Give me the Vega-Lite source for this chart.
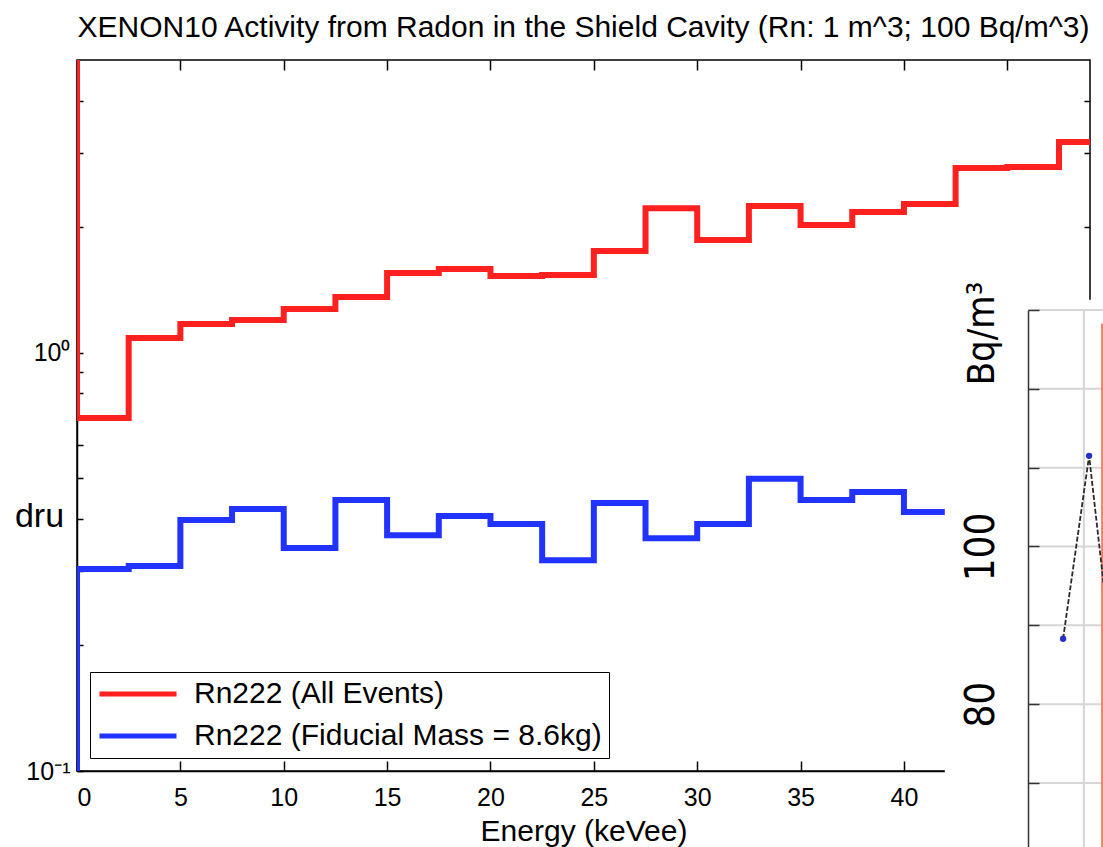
{
  "$schema": "https://vega.github.io/schema/vega-lite/v6.json",
  "width": 1013,
  "height": 711,
  "autosize": {"type": "none"},
  "padding": {"left": 77, "top": 60, "right": 13, "bottom": 76},
  "background": "white",
  "config": {
    "view": {"stroke": "black", "strokeWidth": 1.5},
    "font": "Liberation Sans",
    "axis": {"grid": false}
  },
  "title": {
    "text": "XENON10 Activity from Radon in the Shield Cavity (Rn: 1 m^3; 100 Bq/m^3)",
    "font": "Liberation Sans",
    "fontSize": 30,
    "fontWeight": "normal",
    "color": "black",
    "anchor": "middle",
    "baseline": "alphabetic",
    "offset": -8
  },
  "datasets": {
    "hist": [
      {"s": "Rn222 (All Events)", "i": 0, "E": 0, "v": 10},
      {"s": "Rn222 (All Events)", "i": 1, "E": 0, "v": 0.697},
      {"s": "Rn222 (All Events)", "i": 2, "E": 2.5, "v": 1.083},
      {"s": "Rn222 (All Events)", "i": 3, "E": 5, "v": 1.17},
      {"s": "Rn222 (All Events)", "i": 4, "E": 7.5, "v": 1.196},
      {"s": "Rn222 (All Events)", "i": 5, "E": 10, "v": 1.27},
      {"s": "Rn222 (All Events)", "i": 6, "E": 12.5, "v": 1.357},
      {"s": "Rn222 (All Events)", "i": 7, "E": 15, "v": 1.549},
      {"s": "Rn222 (All Events)", "i": 8, "E": 17.5, "v": 1.583},
      {"s": "Rn222 (All Events)", "i": 9, "E": 20, "v": 1.524},
      {"s": "Rn222 (All Events)", "i": 10, "E": 22.5, "v": 1.532},
      {"s": "Rn222 (All Events)", "i": 11, "E": 25, "v": 1.748},
      {"s": "Rn222 (All Events)", "i": 12, "E": 27.5, "v": 2.213},
      {"s": "Rn222 (All Events)", "i": 13, "E": 30, "v": 1.857},
      {"s": "Rn222 (All Events)", "i": 14, "E": 32.5, "v": 2.239},
      {"s": "Rn222 (All Events)", "i": 15, "E": 35, "v": 2.017},
      {"s": "Rn222 (All Events)", "i": 16, "E": 37.5, "v": 2.167},
      {"s": "Rn222 (All Events)", "i": 17, "E": 40, "v": 2.264},
      {"s": "Rn222 (All Events)", "i": 18, "E": 42.5, "v": 2.76},
      {"s": "Rn222 (All Events)", "i": 19, "E": 45, "v": 2.775},
      {"s": "Rn222 (All Events)", "i": 20, "E": 47.5, "v": 3.184},
      {"s": "Rn222 (All Events)", "i": 21, "E": 49, "v": 3.184},
      {"s": "Rn222 (Fiducial Mass = 8.6kg)", "i": 0, "E": 0, "v": 0.05},
      {"s": "Rn222 (Fiducial Mass = 8.6kg)", "i": 1, "E": 0, "v": 0.304},
      {"s": "Rn222 (Fiducial Mass = 8.6kg)", "i": 2, "E": 2.5, "v": 0.309},
      {"s": "Rn222 (Fiducial Mass = 8.6kg)", "i": 3, "E": 5, "v": 0.398},
      {"s": "Rn222 (Fiducial Mass = 8.6kg)", "i": 4, "E": 7.5, "v": 0.423},
      {"s": "Rn222 (Fiducial Mass = 8.6kg)", "i": 5, "E": 10, "v": 0.341},
      {"s": "Rn222 (Fiducial Mass = 8.6kg)", "i": 6, "E": 12.5, "v": 0.444},
      {"s": "Rn222 (Fiducial Mass = 8.6kg)", "i": 7, "E": 15, "v": 0.366},
      {"s": "Rn222 (Fiducial Mass = 8.6kg)", "i": 8, "E": 17.5, "v": 0.407},
      {"s": "Rn222 (Fiducial Mass = 8.6kg)", "i": 9, "E": 20, "v": 0.389},
      {"s": "Rn222 (Fiducial Mass = 8.6kg)", "i": 10, "E": 22.5, "v": 0.319},
      {"s": "Rn222 (Fiducial Mass = 8.6kg)", "i": 11, "E": 25, "v": 0.437},
      {"s": "Rn222 (Fiducial Mass = 8.6kg)", "i": 12, "E": 27.5, "v": 0.36},
      {"s": "Rn222 (Fiducial Mass = 8.6kg)", "i": 13, "E": 30, "v": 0.389},
      {"s": "Rn222 (Fiducial Mass = 8.6kg)", "i": 14, "E": 32.5, "v": 0.499},
      {"s": "Rn222 (Fiducial Mass = 8.6kg)", "i": 15, "E": 35, "v": 0.444},
      {"s": "Rn222 (Fiducial Mass = 8.6kg)", "i": 16, "E": 37.5, "v": 0.464},
      {"s": "Rn222 (Fiducial Mass = 8.6kg)", "i": 17, "E": 40, "v": 0.416},
      {"s": "Rn222 (Fiducial Mass = 8.6kg)", "i": 18, "E": 42.5, "v": 0.45},
      {"s": "Rn222 (Fiducial Mass = 8.6kg)", "i": 19, "E": 45, "v": 0.47},
      {"s": "Rn222 (Fiducial Mass = 8.6kg)", "i": 20, "E": 47.5, "v": 0.47},
      {"s": "Rn222 (Fiducial Mass = 8.6kg)", "i": 21, "E": 49, "v": 0.47}
    ],
    "inset": [
      {"t": 1, "b": 88.3},
      {"t": 2, "b": 111.5},
      {"t": 3, "b": 82.4}
    ],
    "igrid": [
      {"g": 70}, {"g": 80}, {"g": 90}, {"g": 100}, {"g": 110}, {"g": 120}, {"g": 130}
    ]
  },
  "layer": [
    {
      "layer": [
        {
          "data": {"name": "hist"},
          "mark": {"type": "line", "interpolate": "step-after", "clip": true, "strokeWidth": 6, "strokeJoin": "miter", "strokeCap": "square"},
          "encoding": {
            "x": {
              "field": "E", "type": "quantitative",
              "scale": {"domain": [0, 49], "nice": false, "zero": false},
              "axis": {
                "orient": "bottom",
                "values": [0, 5, 10, 15, 20, 25, 30, 35, 40, 45],
                "tickSize": -10, "tickColor": "black", "tickWidth": 1.5,
                "domainColor": "black", "domainWidth": 1.5,
                "labelFont": "Liberation Sans", "labelFontSize": 25, "labelColor": "black",
                "labelBaseline": "alphabetic", "labelPadding": 44,
                "title": "Energy (keVee)", "titleFont": "Liberation Sans", "titleFontSize": 30,
                "titleFontWeight": "normal", "titleColor": "black",
                "titleBaseline": "alphabetic", "titleY": 69
              }
            },
            "y": {
              "field": "v", "type": "quantitative",
              "scale": {"type": "log", "domain": [0.1, 5], "nice": false},
              "axis": {
                "orient": "left",
                "values": [0.1, 0.2, 0.3, 0.4, 0.5, 0.6, 0.7, 0.8, 0.9, 1, 2, 3, 4],
                "labelExpr": "datum.value == 1 ? '10⁰' : (datum.value == 0.1 ? '10⁻¹' : '')",
                "tickSize": -6, "tickColor": "black", "tickWidth": 1.5,
                "domainColor": "black", "domainWidth": 1.5,
                "labelFont": "Liberation Sans", "labelFontSize": 25, "labelColor": "black",
                "labelPadding": 13,
                "title": "dru", "titleAngle": 0, "titleFont": "Liberation Sans", "titleFontSize": 34,
                "titleFontWeight": "normal", "titleColor": "black",
                "titleAlign": "center", "titleBaseline": "alphabetic",
                "titleX": -38, "titleY": 466
              }
            },
            "color": {
              "field": "s", "type": "nominal",
              "scale": {
                "domain": ["Rn222 (All Events)", "Rn222 (Fiducial Mass = 8.6kg)"],
                "range": ["#ff2020", "#2233ff"]
              },
              "legend": {
                "orient": "none", "legendX": 13, "legendY": 612,
                "title": null, "padding": 7, "clipHeight": 30,
                "strokeColor": "black", "fillColor": "white",
                "symbolType": "stroke", "symbolSize": 5929, "symbolStrokeWidth": 5,
                "labelFont": "Liberation Sans", "labelFontSize": 30, "labelColor": "black",
                "labelOffset": 15, "labelLimit": 800, "rowPadding": 12
              }
            },
            "order": {"field": "i", "type": "quantitative"}
          }
        },
        {
          "data": {"name": "hist"},
          "mark": {"type": "line", "clip": true, "strokeOpacity": 0},
          "encoding": {
            "x": {
              "field": "E", "type": "quantitative",
              "scale": {"domain": [0, 49], "nice": false, "zero": false},
              "axis": {
                "orient": "top", "values": [5, 10, 15, 20, 25, 30, 35, 40, 45],
                "labels": false, "domain": false, "title": null,
                "tickSize": -10, "tickColor": "black", "tickWidth": 1.5
              }
            },
            "y": {
              "field": "v", "type": "quantitative",
              "scale": {"type": "log", "domain": [0.1, 5], "nice": false},
              "axis": {
                "orient": "right", "values": [0.2, 0.3, 0.4, 0.5, 0.6, 0.7, 0.8, 0.9, 1, 2, 3, 4],
                "labels": false, "domain": false, "title": null,
                "tickSize": -6, "tickColor": "black", "tickWidth": 1.5
              }
            },
            "order": {"field": "i", "type": "quantitative"}
          }
        }
      ],
      "resolve": {"axis": {"x": "independent", "y": "independent"}}
    },
    {
      "layer": [
        {
          "data": {"values": [{}]},
          "mark": {"type": "rect", "fill": "white", "stroke": null},
          "encoding": {
            "x": {"datum": -3.55, "type": "quantitative",
              "scale": {"domain": [-0.35, 3.5], "range": [951, 1051.1], "nice": false, "zero": false},
              "axis": null},
            "x2": {"datum": 3.6},
            "y": {"datum": 131.3, "type": "quantitative",
              "scale": {"domain": [60, 130], "range": [801.8, 250], "nice": false, "zero": false},
              "axis": {
                "orient": "right", "offset": -62, "zindex": 1,
                "values": [70, 80, 90, 100, 110, 120, 130],
                "labelExpr": "datum.value == 80 || datum.value == 100 ? datum.label : ''",
                "labelAngle": 270, "labelAlign": "center", "labelBaseline": "middle",
                "labelPadding": -58,
                "labelFont": "Liberation Sans Narrow, DejaVu Sans Condensed, Liberation Sans",
                "labelFontSize": 40, "labelColor": "black",
                "tickSize": 11, "tickColor": "#333333", "tickWidth": 1.5,
                "domainColor": "#333333", "domainWidth": 1.5,
                "title": "Bq/m³", "titleAngle": 270,
                "titleFont": "Liberation Sans Narrow, DejaVu Sans Condensed, Liberation Sans",
                "titleFontSize": 38, "titleFontWeight": "normal", "titleColor": "black",
                "titleAlign": "center", "titleBaseline": "middle",
                "titleX": -46, "titleY": 273
              }},
            "y2": {"datum": 60}
          }
        },
        {
          "data": {"name": "igrid"},
          "mark": {"type": "rule", "stroke": "#d6d6d6", "strokeWidth": 2},
          "encoding": {
            "y": {"field": "g", "type": "quantitative",
              "axis": {
                "orient": "right", "offset": -62, "zindex": 1,
                "values": [70, 80, 90, 100, 110, 120, 130],
                "labelExpr": "datum.value == 80 || datum.value == 100 ? datum.label : ''",
                "labelAngle": 270, "labelAlign": "center", "labelBaseline": "middle",
                "labelPadding": -58,
                "labelFont": "Liberation Sans Narrow, DejaVu Sans Condensed, Liberation Sans",
                "labelFontSize": 40, "labelColor": "black",
                "tickSize": 11, "tickColor": "#333333", "tickWidth": 1.5,
                "domainColor": "#333333", "domainWidth": 1.5,
                "title": "Bq/m³", "titleAngle": 270,
                "titleFont": "Liberation Sans Narrow, DejaVu Sans Condensed, Liberation Sans",
                "titleFontSize": 38, "titleFontWeight": "normal", "titleColor": "black",
                "titleAlign": "center", "titleBaseline": "middle",
                "titleX": -46, "titleY": 273
              }},
            "x": {"datum": -0.35, "type": "quantitative", "axis": null},
            "x2": {"datum": 3.6}
          }
        },
        {
          "data": {"values": [{}]},
          "mark": {"type": "rule", "stroke": "#d6d6d6", "strokeWidth": 2},
          "encoding": {
            "x": {"datum": 1.8, "type": "quantitative", "axis": null},
            "y": {"datum": 60, "type": "quantitative",
              "axis": {
                "orient": "right", "offset": -62, "zindex": 1,
                "values": [70, 80, 90, 100, 110, 120, 130],
                "labelExpr": "datum.value == 80 || datum.value == 100 ? datum.label : ''",
                "labelAngle": 270, "labelAlign": "center", "labelBaseline": "middle",
                "labelPadding": -58,
                "labelFont": "Liberation Sans Narrow, DejaVu Sans Condensed, Liberation Sans",
                "labelFontSize": 40, "labelColor": "black",
                "tickSize": 11, "tickColor": "#333333", "tickWidth": 1.5,
                "domainColor": "#333333", "domainWidth": 1.5,
                "title": "Bq/m³", "titleAngle": 270,
                "titleFont": "Liberation Sans Narrow, DejaVu Sans Condensed, Liberation Sans",
                "titleFontSize": 38, "titleFontWeight": "normal", "titleColor": "black",
                "titleAlign": "center", "titleBaseline": "middle",
                "titleX": -46, "titleY": 273
              }},
            "y2": {"datum": 130}
          }
        },
        {
          "data": {"values": [{}]},
          "mark": {"type": "rule", "stroke": "#f08068", "strokeWidth": 2},
          "encoding": {
            "x": {"datum": 2.5, "type": "quantitative", "axis": null},
            "y": {"datum": 60, "type": "quantitative",
              "axis": {
                "orient": "right", "offset": -62, "zindex": 1,
                "values": [70, 80, 90, 100, 110, 120, 130],
                "labelExpr": "datum.value == 80 || datum.value == 100 ? datum.label : ''",
                "labelAngle": 270, "labelAlign": "center", "labelBaseline": "middle",
                "labelPadding": -58,
                "labelFont": "Liberation Sans Narrow, DejaVu Sans Condensed, Liberation Sans",
                "labelFontSize": 40, "labelColor": "black",
                "tickSize": 11, "tickColor": "#333333", "tickWidth": 1.5,
                "domainColor": "#333333", "domainWidth": 1.5,
                "title": "Bq/m³", "titleAngle": 270,
                "titleFont": "Liberation Sans Narrow, DejaVu Sans Condensed, Liberation Sans",
                "titleFontSize": 38, "titleFontWeight": "normal", "titleColor": "black",
                "titleAlign": "center", "titleBaseline": "middle",
                "titleX": -46, "titleY": 273
              }},
            "y2": {"datum": 128.3}
          }
        },
        {
          "data": {"name": "inset"},
          "mark": {"type": "line", "stroke": "#2a2a2a", "strokeWidth": 1.8, "strokeDash": [5, 2]},
          "encoding": {
            "x": {"field": "t", "type": "quantitative", "axis": null},
            "y": {"field": "b", "type": "quantitative",
              "axis": {
                "orient": "right", "offset": -62, "zindex": 1,
                "values": [70, 80, 90, 100, 110, 120, 130],
                "labelExpr": "datum.value == 80 || datum.value == 100 ? datum.label : ''",
                "labelAngle": 270, "labelAlign": "center", "labelBaseline": "middle",
                "labelPadding": -58,
                "labelFont": "Liberation Sans Narrow, DejaVu Sans Condensed, Liberation Sans",
                "labelFontSize": 40, "labelColor": "black",
                "tickSize": 11, "tickColor": "#333333", "tickWidth": 1.5,
                "domainColor": "#333333", "domainWidth": 1.5,
                "title": "Bq/m³", "titleAngle": 270,
                "titleFont": "Liberation Sans Narrow, DejaVu Sans Condensed, Liberation Sans",
                "titleFontSize": 38, "titleFontWeight": "normal", "titleColor": "black",
                "titleAlign": "center", "titleBaseline": "middle",
                "titleX": -46, "titleY": 273
              }}
          }
        },
        {
          "data": {"name": "inset"},
          "mark": {"type": "point", "filled": true, "fill": "#2530c8", "size": 40, "opacity": 1},
          "encoding": {
            "x": {"field": "t", "type": "quantitative", "axis": null},
            "y": {"field": "b", "type": "quantitative",
              "axis": {
                "orient": "right", "offset": -62, "zindex": 1,
                "values": [70, 80, 90, 100, 110, 120, 130],
                "labelExpr": "datum.value == 80 || datum.value == 100 ? datum.label : ''",
                "labelAngle": 270, "labelAlign": "center", "labelBaseline": "middle",
                "labelPadding": -58,
                "labelFont": "Liberation Sans Narrow, DejaVu Sans Condensed, Liberation Sans",
                "labelFontSize": 40, "labelColor": "black",
                "tickSize": 11, "tickColor": "#333333", "tickWidth": 1.5,
                "domainColor": "#333333", "domainWidth": 1.5,
                "title": "Bq/m³", "titleAngle": 270,
                "titleFont": "Liberation Sans Narrow, DejaVu Sans Condensed, Liberation Sans",
                "titleFontSize": 38, "titleFontWeight": "normal", "titleColor": "black",
                "titleAlign": "center", "titleBaseline": "middle",
                "titleX": -46, "titleY": 273
              }}
          }
        }
      ]
    }
  ],
  "resolve": {"scale": {"x": "independent", "y": "independent"}}
}
